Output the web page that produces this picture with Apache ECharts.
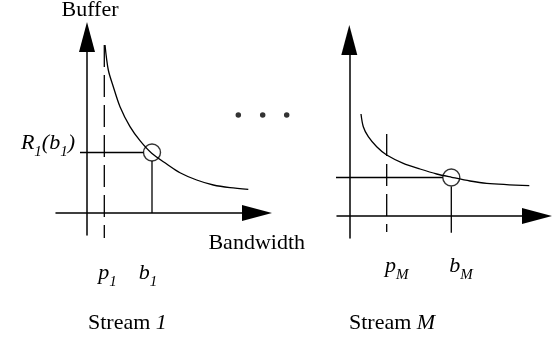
<!DOCTYPE html>
<html>
<head>
<meta charset="utf-8">
<script src="https://cdn.jsdelivr.net/npm/echarts@6/dist/echarts.min.js"></script>
<style>
  html, body { margin: 0; background: #fff; }
  #chart { width: 552px; height: 341px; }
</style>
</head>
<body>
<div id="chart"></div>
<script>
// Stream 1 (left panel)
const curve1 = [[1.8, 16.8], [2.13, 14.3], [2.63, 12.63], [3.3, 10.63], [4.3, 8.63], [5.3, 7.23],
  [6.47, 5.97], [7.97, 4.9], [9.3, 4.03], [10.97, 3.3], [12.63, 2.8], [14.3, 2.53], [16.13, 2.37]];
const dash1 = [[1.73, 16.8], [1.73, -2.5]];        // p1
const point1 = [[6.5, 6.05]];                       // (b1, R1(b1))
const hLine1 = [[-0.7, 6.05], [5.65, 6.05]];
const vLine1 = [[6.5, 5.2], [6.5, 0]];

// Stream M (right panel)
const curveM = [[1.17, 10.2], [1.4, 8.93], [1.9, 7.93], [2.74, 6.93], [3.74, 6.1], [5.4, 5.27],
  [7.07, 4.7], [8.74, 4.2], [10.24, 3.87], [12.07, 3.5], [13.74, 3.27], [18.0, 3.03]];
const dashM = [[3.74, 8.2], [3.74, -1.6]];         // pM
const pointM = [[10.2, 3.85]];                      // (bM, RM(bM))
const hLineM = [[-2.33, 3.85], [9.35, 3.85]];
const vLineM = [[10.2, 2.95], [10.2, -1.67]];

// the "..." between the panels, in left-panel units
const dots = [[15.13, 9.8], [17.57, 9.8], [19.97, 9.8]];

// tick labels
const xTicks1 = [2.05, 6.1];
const xLabels1 = ['{m|p}{s|1}', '{m|b}{s|1}'];
const xTicksM = [4.74, 11.17];
const xLabelsM = ['{m|p}{s|M}', '{m|b}{s|M}'];
const yTicks1 = [6.05];
const yLabels1 = ['{m|R}{s|1}{m|(b}{s|1}{m|)}'];

const font = '"Liberation Serif", "Times New Roman", serif';
const ink = '#000';
const rich = {
  m: { fontFamily: font, fontStyle: 'italic', fontSize: 22, lineHeight: 22, verticalAlign: 'top', color: ink },
  s: { fontFamily: font, fontStyle: 'italic', fontSize: 15, lineHeight: 27, verticalAlign: 'bottom', color: ink }
};

function pick(ticks, labels) {
  return function (v) {
    let best = 0;
    ticks.forEach(function (t, i) { if (Math.abs(t - v) < Math.abs(ticks[best] - v)) best = i; });
    return labels[best];
  };
}

function axisLine() {
  return {
    show: true,
    onZero: true,
    symbol: ['none', 'triangle'],
    symbolSize: [16, 30],
    lineStyle: { color: ink, width: 1.5 }
  };
}

function seg(grid, data, width, dashed, smooth) {
  return {
    type: 'line', xAxisIndex: grid, yAxisIndex: grid, data: data,
    symbol: 'none', clip: false, silent: true,
    smooth: smooth ? 0.3 : false,
    lineStyle: { color: ink, width: width, type: dashed ? [22, 8] : 'solid' }
  };
}

function ring(grid, data) {
  return {
    type: 'scatter', xAxisIndex: grid, yAxisIndex: grid, data: data,
    symbol: 'circle', symbolSize: 17, clip: false, silent: true,
    itemStyle: { color: 'rgba(0,0,0,0)', borderColor: ink, borderWidth: 1.4 }
  };
}

const chart = echarts.init(document.getElementById('chart'));
chart.setOption({
  animation: false,
  backgroundColor: '#fff',
  title: [
    {
      text: 'Stream {i|1}', left: 88, top: 312.6, padding: 0,
      textStyle: { fontFamily: font, fontWeight: 'normal', fontSize: 22, lineHeight: 22, color: ink,
        rich: { i: { fontFamily: font, fontStyle: 'italic', fontSize: 22, lineHeight: 22, color: ink } } }
    },
    {
      text: 'Stream {i|M}', left: 349, top: 312.6, padding: 0,
      textStyle: { fontFamily: font, fontWeight: 'normal', fontSize: 22, lineHeight: 22, color: ink,
        rich: { i: { fontFamily: font, fontStyle: 'italic', fontSize: 22, lineHeight: 22, color: ink } } }
    }
  ],
  grid: [
    { left: 56, top: 37, width: 201, height: 198, containLabel: false, outerBoundsMode: 'none' },
    { left: 337, top: 40, width: 200, height: 198, containLabel: false, outerBoundsMode: 'none' }
  ],
  xAxis: [
    {
      gridIndex: 0, type: 'value', min: -3.1, max: 17.0,
      name: 'Bandwidth', nameLocation: 'end', nameGap: 48,
      nameTextStyle: { fontFamily: font, fontSize: 22, color: ink, align: 'right', verticalAlign: 'top', padding: [19, 0, 0, 0] },
      axisLine: axisLine(), axisTick: { show: false }, splitLine: { show: false },
      axisLabel: { customValues: xTicks1, margin: 27.6, formatter: pick(xTicks1, xLabels1), rich: rich }
    },
    {
      gridIndex: 1, type: 'value', min: -1.23, max: 18.77,
      axisLine: axisLine(), axisTick: { show: false }, splitLine: { show: false },
      axisLabel: { customValues: xTicksM, margin: 17.6, formatter: pick(xTicksM, xLabelsM), rich: rich }
    }
  ],
  yAxis: [
    {
      gridIndex: 0, type: 'value', min: -2.2, max: 17.6,
      name: 'Buffer', nameLocation: 'end', nameGap: 16,
      nameTextStyle: { fontFamily: font, fontSize: 22, color: ink, padding: [0, 0, 0, 6] },
      axisLine: axisLine(), axisTick: { show: false }, splitLine: { show: false },
      axisLabel: { customValues: yTicks1, margin: -19, padding: [0, 0, 13, 0], formatter: pick(yTicks1, yLabels1), rich: rich }
    },
    {
      gridIndex: 1, type: 'value', min: -2.2, max: 17.6,
      axisLine: axisLine(), axisTick: { show: false }, splitLine: { show: false },
      axisLabel: { show: false }
    }
  ],
  series: [
    seg(0, curve1, 1.3, false, true),
    seg(0, dash1, 1.3, true, false),
    seg(0, hLine1, 1.3, false, false),
    seg(0, vLine1, 1.3, false, false),
    ring(0, point1),
    {
      type: 'scatter', xAxisIndex: 0, yAxisIndex: 0, data: dots,
      symbol: 'circle', symbolSize: 5.5, clip: false, silent: true,
      itemStyle: { color: ink }
    },
    seg(1, curveM, 1.3, false, true),
    seg(1, dashM, 1.3, true, false),
    seg(1, hLineM, 1.3, false, false),
    seg(1, vLineM, 1.3, false, false),
    ring(1, pointM)
  ]
});
</script>
</body>
</html>
